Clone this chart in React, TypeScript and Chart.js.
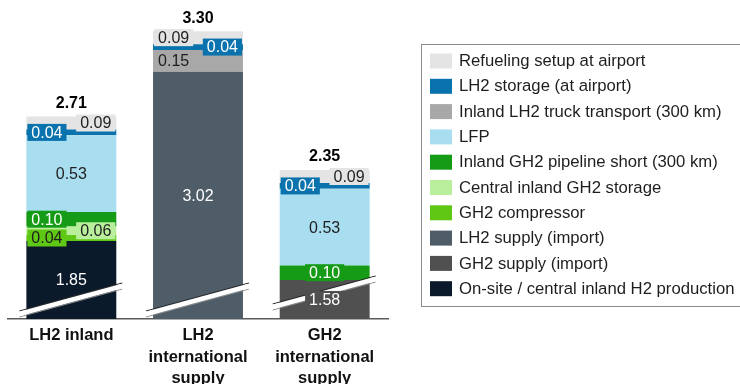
import { useEffect, useRef } from "react";
import { Chart, registerables } from "chart.js";

Chart.register(...registerables);

// ---- data (USD/kg H2 cost components, stacked bottom → top) ----
const categories: string[][] = [
  ["LH2 inland"],
  ["LH2", "international", "supply"],
  ["GH2", "international", "supply"],
];

const onsiteProduction = [1.85, 0, 0];
const gh2Supply = [0, 0, 1.58];
const lh2Supply = [0, 3.02, 0];
const gh2Compressor = [0.04, 0, 0];
const centralGh2Storage = [0.06, 0, 0];
const gh2Pipeline = [0.1, 0, 0.1];
const lfp = [0.53, 0, 0.53];
const lh2Truck = [0, 0.15, 0];
const lh2Storage = [0.04, 0.04, 0.04];
const refuelingSetup = [0.09, 0.09, 0.09];

const totals = [2.71, 3.3, 2.35];

// ---- appearance ----
type Place = "center" | "left" | "right";
interface SeriesStyle {
  color: string;
  place: Place[];
  box: string | null;
  text: string;
}

const FONT = "'Liberation Sans', Arial, Helvetica, sans-serif";
const DARK_TEXT = "#1e1e1e";

const series: { name: string; values: number[]; style: SeriesStyle }[] = [
  {
    name: "On-site / central inland H2 production",
    values: onsiteProduction,
    style: { color: "#0b1a2a", place: ["center", "center", "center"], box: null, text: "#ffffff" },
  },
  {
    name: "GH2 supply (import)",
    values: gh2Supply,
    style: { color: "#505050", place: ["center", "center", "center"], box: "#505050", text: "#ffffff" },
  },
  {
    name: "LH2 supply (import)",
    values: lh2Supply,
    style: { color: "#4f5d69", place: ["center", "center", "center"], box: null, text: "#ffffff" },
  },
  {
    name: "GH2 compressor",
    values: gh2Compressor,
    style: { color: "#5fc814", place: ["left", "left", "left"], box: "#5fc814", text: DARK_TEXT },
  },
  {
    name: "Central inland GH2 storage",
    values: centralGh2Storage,
    style: { color: "#b9ef9c", place: ["right", "right", "right"], box: "#b9ef9c", text: DARK_TEXT },
  },
  {
    name: "Inland GH2 pipeline short (300 km)",
    values: gh2Pipeline,
    style: { color: "#169b17", place: ["left", "center", "center"], box: "#169b17", text: "#ffffff" },
  },
  {
    name: "LFP",
    values: lfp,
    style: { color: "#a9def0", place: ["center", "center", "center"], box: null, text: DARK_TEXT },
  },
  {
    name: "Inland LH2 truck transport (300 km)",
    values: lh2Truck,
    style: { color: "#a8a8a8", place: ["left", "left", "left"], box: "#a8a8a8", text: DARK_TEXT },
  },
  {
    name: "LH2 storage (at airport)",
    values: lh2Storage,
    style: { color: "#0a72ad", place: ["left", "right", "left"], box: "#0a72ad", text: "#ffffff" },
  },
  {
    name: "Refueling setup at airport",
    values: refuelingSetup,
    style: { color: "#e4e4e4", place: ["right", "left", "right"], box: "#e4e4e4", text: DARK_TEXT },
  },
];

// vertical lift of the axis-break marks per bar
const breakLift = [0, 0, 7];

// Value labels on segments, axis-break marks and bar totals
const barAnnotations = {
  id: "barAnnotations",
  afterDatasetsDraw(chart: Chart) {
    const ctx = chart.ctx;
    const area = chart.chartArea;
    const nBars = chart.data.labels?.length ?? 0;

    // break marks across the truncated bottom segments
    for (let j = 0; j < nBars; j++) {
      for (let i = 0; i < chart.data.datasets.length; i++) {
        const v = chart.data.datasets[i].data[j] as number;
        if (!v) continue;
        const el: any = chart.getDatasetMeta(i).data[j];
        const p = el.getProps(["x", "y", "base", "width"], true);
        if (Math.max(p.y, p.base) <= area.bottom) continue;
        const left = p.x - p.width / 2;
        const right = p.x + p.width / 2;
        const x0 = left - 7;
        const x1 = right + 6;
        const y0 = area.bottom - 5 - breakLift[j];
        const y1 = area.bottom - 33 - breakLift[j];
        const line = (dy: number) => {
          ctx.beginPath();
          ctx.moveTo(x0, y0 + dy);
          ctx.lineTo(x1, y1 + dy);
          ctx.stroke();
        };
        ctx.save();
        ctx.lineCap = "butt";
        ctx.strokeStyle = "#2a2a2a";
        ctx.lineWidth = 1.2;
        line(-3);
        ctx.strokeStyle = "#8a8a8a";
        ctx.lineWidth = 1;
        line(3);
        ctx.strokeStyle = "#ffffff";
        ctx.lineWidth = 4.5;
        line(0);
        ctx.restore();
        break;
      }
    }

    // segment value labels
    ctx.save();
    ctx.font = `16px ${FONT}`;
    ctx.textAlign = "center";
    ctx.textBaseline = "middle";
    chart.data.datasets.forEach((ds, i) => {
      const style = series[i].style;
      const meta = chart.getDatasetMeta(i);
      meta.data.forEach((el: any, j: number) => {
        const v = ds.data[j] as number;
        if (!v) return;
        const p = el.getProps(["x", "y", "base", "width"], true);
        const top = Math.max(Math.min(p.y, p.base), area.top);
        const bottom = Math.min(Math.max(p.y, p.base), area.bottom);
        const cy = (top + bottom) / 2;
        const text = v.toFixed(2);
        const tw = ctx.measureText(text).width;
        const bw = tw + 8;
        const bh = 17;
        const left = p.x - p.width / 2;
        const right = p.x + p.width / 2;
        const place = style.place[j];
        let cx = p.x;
        if (place === "left") cx = left + bw / 2 + 1;
        else if (place === "right") cx = right - bw / 2 - 1;
        if (style.box) {
          ctx.fillStyle = style.box;
          ctx.fillRect(cx - bw / 2, cy - bh / 2, bw, bh);
        }
        ctx.fillStyle = style.text;
        ctx.fillText(text, cx, cy + 1);
      });
    });

    // totals above each stack
    ctx.font = `bold 16px ${FONT}`;
    ctx.fillStyle = "#000000";
    for (let j = 0; j < nBars; j++) {
      let topY = Infinity;
      let cx = 0;
      chart.data.datasets.forEach((ds, i) => {
        const v = ds.data[j] as number;
        if (!v) return;
        const el: any = chart.getDatasetMeta(i).data[j];
        const p = el.getProps(["x", "y", "base"], true);
        topY = Math.min(topY, p.y, p.base);
        cx = p.x;
      });
      ctx.fillText(totals[j].toFixed(2), cx, topY - 13);
    }
    ctx.restore();
  },
};

// Boxed legend on the right, listed top component first
const boxedLegend = {
  id: "boxedLegend",
  afterDraw(chart: Chart) {
    const ctx = chart.ctx;
    const boxX = 421.5;
    const boxY = 44.5;
    ctx.save();
    ctx.strokeStyle = "#8c8c8c";
    ctx.lineWidth = 1;
    ctx.strokeRect(boxX, boxY, 330, 262);
    ctx.font = `16.7px ${FONT}`;
    ctx.textAlign = "left";
    ctx.textBaseline = "middle";
    const items = chart.data.datasets.map((ds, i) => ({
      label: ds.label as string,
      color: series[i].style.color,
    }));
    items.reverse().forEach((it, k) => {
      const cy = 61 + k * 25.3;
      ctx.fillStyle = it.color;
      ctx.fillRect(430, cy - 7.5, 22, 15);
      ctx.fillStyle = DARK_TEXT;
      ctx.fillText(it.label, 459, cy + 0.5);
    });
    ctx.restore();
  },
};

export default function App() {
  const canvasRef = useRef<HTMLCanvasElement | null>(null);

  useEffect(() => {
    const canvas = canvasRef.current;
    if (!canvas) return;
    const chart = new Chart(canvas, {
      type: "bar",
      data: {
        labels: categories,
        datasets: series.map((s) => ({
          label: s.name,
          data: s.values,
          backgroundColor: s.style.color,
          borderWidth: 0,
          barPercentage: 0.71,
          categoryPercentage: 1,
          clip: 0,
        })),
      },
      options: {
        responsive: false,
        animation: false,
        devicePixelRatio: 1,
        layout: { padding: { left: 8, right: 352, top: 8, bottom: 0 } },
        plugins: {
          legend: { display: false },
          tooltip: { enabled: false },
        },
        scales: {
          x: {
            stacked: true,
            grid: { display: false, drawTicks: false },
            border: { display: true, color: "#5a5a5a", width: 1.5 },
            ticks: {
              autoSkip: false,
              maxRotation: 0,
              padding: 6,
              color: "#111111",
              font: { family: FONT, size: 16.5, weight: "bold", lineHeight: 1.3 },
            },
            afterFit: (scale: any) => {
              scale.height = 65;
            },
          },
          y: {
            stacked: true,
            display: false,
            min: 1.31,
            max: 3.46,
          },
        },
      },
      plugins: [barAnnotations, boxedLegend],
    });
    return () => chart.destroy();
  }, []);

  return (
    <div style={{ position: "fixed", left: 0, top: 0, width: 740, height: 384, background: "#ffffff" }}>
      <canvas ref={canvasRef} width={740} height={384} />
    </div>
  );
}
